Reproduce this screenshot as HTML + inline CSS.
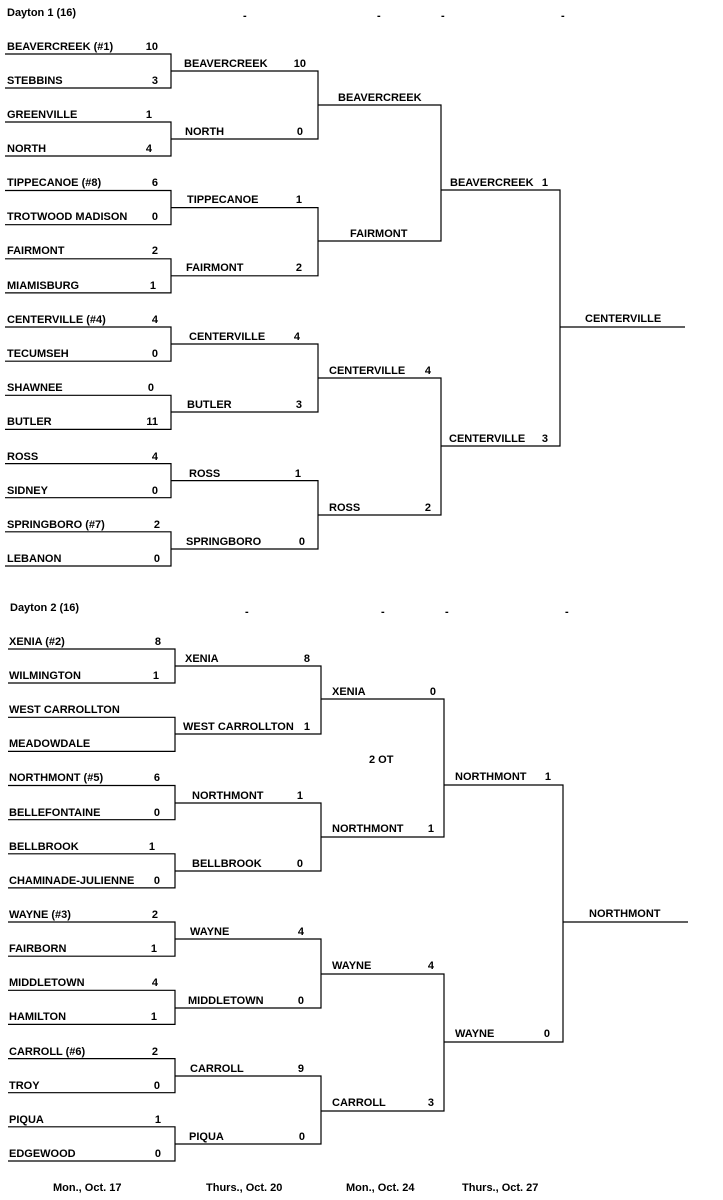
<!DOCTYPE html>
<html><head><meta charset="utf-8"><style>
html,body{margin:0;padding:0;background:#fff;}
svg{display:block;}
text{font-family:"Liberation Sans",Arial,sans-serif;font-weight:bold;font-size:11px;fill:#000;}
.e{text-anchor:end;}
</style></head><body>
<svg width="723" height="1200" viewBox="0 0 723 1200" xmlns="http://www.w3.org/2000/svg">
<g stroke="#000" stroke-width="1.2" fill="none">
<!-- TOP round1 -->
<path d="M5 54H171V88H5"/><path d="M5 122H171V156H5"/><path d="M5 190.5H171V224.7H5"/><path d="M5 258.8H171V292.9H5"/>
<path d="M5 327H171V361.2H5"/><path d="M5 395.3H171V429.4H5"/><path d="M5 463.6H171V497.7H5"/><path d="M5 531.8H171V566H5"/>
<!-- TOP round2 -->
<path d="M171 71H318V139H171"/><path d="M171 207.6H318V275.8H171"/><path d="M171 344H318V412H171"/><path d="M171 480.6H318V549H171"/>
<!-- TOP round3 -->
<path d="M318 105H441V241H318"/><path d="M318 378H441V515H318"/>
<!-- TOP round4 -->
<path d="M441 190H560V446H441"/>
<path d="M560 327H685"/>
<!-- BOTTOM round1 -->
<path d="M8 649H175V683H8"/><path d="M8 717.3H175V751.4H8"/><path d="M8 785.5H175V819.7H8"/><path d="M8 853.8H175V887.9H8"/>
<path d="M8 922H175V956.2H8"/><path d="M8 990.3H175V1024.4H8"/><path d="M8 1058.6H175V1092.7H8"/><path d="M8 1126.8H175V1161H8"/>
<!-- BOTTOM round2 -->
<path d="M175 666H321V734H175"/><path d="M175 803H321V871H175"/><path d="M175 939H321V1008H175"/><path d="M175 1076H321V1144H175"/>
<!-- BOTTOM round3 -->
<path d="M321 699H444V837H321"/><path d="M321 974H444V1111H321"/>
<!-- BOTTOM round4 -->
<path d="M444 785H563V1042H444"/>
<path d="M563 922H688"/>
</g>

<text x="7" y="16">Dayton 1 (16)</text>
<text x="243" y="19">-</text><text x="377" y="19">-</text><text x="441" y="19">-</text><text x="561" y="19">-</text>

<text x="7" y="50">BEAVERCREEK (#1)</text><text class="e" x="158" y="50">10</text>
<text x="7" y="84">STEBBINS</text><text class="e" x="158" y="84">3</text>
<text x="7" y="118">GREENVILLE</text><text class="e" x="152" y="118">1</text>
<text x="7" y="152">NORTH</text><text class="e" x="152" y="152">4</text>
<text x="7" y="186">TIPPECANOE (#8)</text><text class="e" x="158" y="186">6</text>
<text x="7" y="220">TROTWOOD MADISON</text><text class="e" x="158" y="220">0</text>
<text x="7" y="254">FAIRMONT</text><text class="e" x="158" y="254">2</text>
<text x="7" y="289">MIAMISBURG</text><text class="e" x="156" y="289">1</text>
<text x="7" y="323">CENTERVILLE (#4)</text><text class="e" x="158" y="323">4</text>
<text x="7" y="357">TECUMSEH</text><text class="e" x="158" y="357">0</text>
<text x="7" y="391">SHAWNEE</text><text class="e" x="154" y="391">0</text>
<text x="7" y="425">BUTLER</text><text class="e" x="158" y="425">11</text>
<text x="7" y="460">ROSS</text><text class="e" x="158" y="460">4</text>
<text x="7" y="494">SIDNEY</text><text class="e" x="158" y="494">0</text>
<text x="7" y="528">SPRINGBORO (#7)</text><text class="e" x="160" y="528">2</text>
<text x="7" y="562">LEBANON</text><text class="e" x="160" y="562">0</text>

<text x="184" y="67">BEAVERCREEK</text><text class="e" x="306" y="67">10</text>
<text x="185" y="135">NORTH</text><text class="e" x="303" y="135">0</text>
<text x="187" y="203">TIPPECANOE</text><text class="e" x="302" y="203">1</text>
<text x="186" y="271">FAIRMONT</text><text class="e" x="302" y="271">2</text>
<text x="189" y="340">CENTERVILLE</text><text class="e" x="300" y="340">4</text>
<text x="187" y="408">BUTLER</text><text class="e" x="302" y="408">3</text>
<text x="189" y="477">ROSS</text><text class="e" x="301" y="477">1</text>
<text x="186" y="545">SPRINGBORO</text><text class="e" x="305" y="545">0</text>

<text x="338" y="101">BEAVERCREEK</text>
<text x="350" y="237">FAIRMONT</text>
<text x="329" y="374">CENTERVILLE</text><text class="e" x="431" y="374">4</text>
<text x="329" y="511">ROSS</text><text class="e" x="431" y="511">2</text>

<text x="450" y="186">BEAVERCREEK</text><text class="e" x="548" y="186">1</text>
<text x="449" y="442">CENTERVILLE</text><text class="e" x="548" y="442">3</text>
<text x="585" y="322">CENTERVILLE</text>

<text x="10" y="611">Dayton 2 (16)</text>
<text x="245" y="615">-</text><text x="381" y="615">-</text><text x="445" y="615">-</text><text x="565" y="615">-</text>

<text x="9" y="645">XENIA (#2)</text><text class="e" x="161" y="645">8</text>
<text x="9" y="679">WILMINGTON</text><text class="e" x="159" y="679">1</text>
<text x="9" y="713">WEST CARROLLTON</text>
<text x="9" y="747">MEADOWDALE</text>
<text x="9" y="781">NORTHMONT (#5)</text><text class="e" x="160" y="781">6</text>
<text x="9" y="816">BELLEFONTAINE</text><text class="e" x="160" y="816">0</text>
<text x="9" y="850">BELLBROOK</text><text class="e" x="155" y="850">1</text>
<text x="9" y="884">CHAMINADE-JULIENNE</text><text class="e" x="160" y="884">0</text>
<text x="9" y="918">WAYNE (#3)</text><text class="e" x="158" y="918">2</text>
<text x="9" y="952">FAIRBORN</text><text class="e" x="157" y="952">1</text>
<text x="9" y="986">MIDDLETOWN</text><text class="e" x="158" y="986">4</text>
<text x="9" y="1020">HAMILTON</text><text class="e" x="157" y="1020">1</text>
<text x="9" y="1055">CARROLL (#6)</text><text class="e" x="158" y="1055">2</text>
<text x="9" y="1089">TROY</text><text class="e" x="160" y="1089">0</text>
<text x="9" y="1123">PIQUA</text><text class="e" x="161" y="1123">1</text>
<text x="9" y="1157">EDGEWOOD</text><text class="e" x="161" y="1157">0</text>

<text x="185" y="662">XENIA</text><text class="e" x="310" y="662">8</text>
<text x="183" y="730">WEST CARROLLTON</text><text class="e" x="310" y="730">1</text>
<text x="192" y="799">NORTHMONT</text><text class="e" x="303" y="799">1</text>
<text x="192" y="867">BELLBROOK</text><text class="e" x="303" y="867">0</text>
<text x="190" y="935">WAYNE</text><text class="e" x="304" y="935">4</text>
<text x="188" y="1004">MIDDLETOWN</text><text class="e" x="304" y="1004">0</text>
<text x="190" y="1072">CARROLL</text><text class="e" x="304" y="1072">9</text>
<text x="189" y="1140">PIQUA</text><text class="e" x="305" y="1140">0</text>

<text x="332" y="695">XENIA</text><text class="e" x="436" y="695">0</text>
<text x="369" y="763">2 OT</text>
<text x="332" y="832">NORTHMONT</text><text class="e" x="434" y="832">1</text>
<text x="332" y="969">WAYNE</text><text class="e" x="434" y="969">4</text>
<text x="332" y="1106">CARROLL</text><text class="e" x="434" y="1106">3</text>

<text x="455" y="780">NORTHMONT</text><text class="e" x="551" y="780">1</text>
<text x="455" y="1037">WAYNE</text><text class="e" x="550" y="1037">0</text>
<text x="589" y="917">NORTHMONT</text>

<text x="53" y="1191">Mon., Oct. 17</text>
<text x="206" y="1191">Thurs., Oct. 20</text>
<text x="346" y="1191">Mon., Oct. 24</text>
<text x="462" y="1191">Thurs., Oct. 27</text>
</svg>
</body></html>
